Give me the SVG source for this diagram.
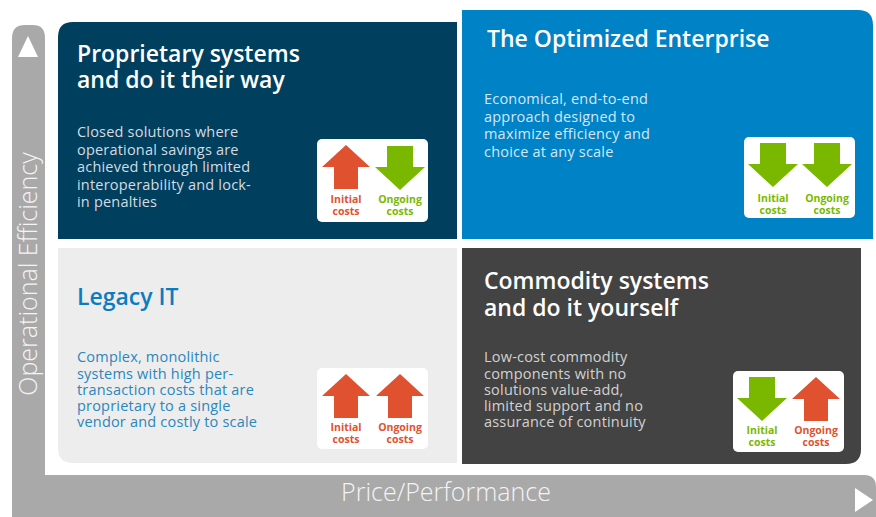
<svg xmlns="http://www.w3.org/2000/svg" xmlns:xlink="http://www.w3.org/1999/xlink" width="876" height="517" viewBox="0 0 876 517">
<defs>
<style>
.title{font-family:"Open Sans",Lato,sans-serif;font-weight:600;font-size:23px}
.body{font-family:"Open Sans",Lato,sans-serif;font-size:14.5px;letter-spacing:0.2px}
.lbl{font-family:"Open Sans",Lato,sans-serif;font-weight:700;font-size:10.5px;text-anchor:middle}
.axis{font-family:"Open Sans",Lato,sans-serif;font-weight:300;font-size:25px;fill:#f4f4f4}
.red{fill:#e0512f}
.green{fill:#7ab800}
.cbox{fill:#ffffff}
</style>
<polygon id="up" points="0,0 24,22 12,22 12,44 -12,44 -12,22 -24,22"/>
<polygon id="down" points="-13,0 13,0 13,21 25,21 0,44 -25,21 -13,21"/>
</defs>
<rect width="876" height="517" fill="#ffffff"/>
<g id="axes">
<path d="M12,38 Q12,25 25,25 L33,25 Q45,25 45,38 L45,475 L864,475 Q876,475 876,487 L876,517 L12,517 Z" fill="#a9a9a9"/>
<polygon points="28,36 38,57 18,57" fill="#ffffff"/>
<polygon points="855,488 873,500 855,512" fill="#ffffff"/>
<text class="axis" transform="translate(37,274) rotate(-90)" text-anchor="middle">Operational Efficiency</text>
<text class="axis" x="446" y="501" text-anchor="middle">Price/Performance</text>
</g>
<g id="connectors"></g>
<g id="q-proprietary">
<path d="M58,239 L58,37 Q58,22 73,22 L457,22 L457,239 Z" fill="#003f5e"/>
<text class="title" fill="#ffffff"><tspan x="77" y="62">Proprietary systems</tspan><tspan x="77" y="88">and do it their way</tspan></text>
<text class="body" fill="#d5dbe0"><tspan x="77" y="137">Closed solutions where</tspan><tspan x="77" y="154.5">operational savings are</tspan><tspan x="77" y="172">achieved through limited</tspan><tspan x="77" y="189.5">interoperability and lock-</tspan><tspan x="77" y="207">in penalties</tspan></text>
<g transform="translate(317,139)">
<rect class="cbox" width="111" height="83" rx="5"/>
<use xlink:href="#up" class="red" x="29" y="6"/>
<use xlink:href="#down" class="green" x="83" y="7"/>
<text class="lbl red"><tspan x="29" y="64">Initial</tspan><tspan x="29" y="76">costs</tspan></text>
<text class="lbl green"><tspan x="83" y="64">Ongoing</tspan><tspan x="83" y="76">costs</tspan></text>
</g>
</g>
<g id="q-optimized">
<path d="M462,239 L462,10 L858,10 Q873,10 873,25 L873,239 Z" fill="#0082c6"/>
<text class="title" fill="#ffffff" x="487" y="47">The Optimized Enterprise</text>
<text class="body" fill="#d3e8f5"><tspan x="484" y="104">Economical, end-to-end</tspan><tspan x="484" y="121.5">approach designed to</tspan><tspan x="484" y="139">maximize efficiency and</tspan><tspan x="484" y="156.5">choice at any scale</tspan></text>
<g transform="translate(744,137)">
<rect class="cbox" width="111" height="81" rx="5"/>
<use xlink:href="#down" class="green" x="29" y="6"/>
<use xlink:href="#down" class="green" x="83" y="6"/>
<text class="lbl green"><tspan x="29" y="65">Initial</tspan><tspan x="29" y="77">costs</tspan></text>
<text class="lbl green"><tspan x="83" y="65">Ongoing</tspan><tspan x="83" y="77">costs</tspan></text>
</g>
</g>
<g id="q-legacy">
<path d="M58,248 L457,248 L457,463 L73,463 Q58,463 58,448 Z" fill="#ededed"/>
<text class="title" fill="#0a7cc1" x="77" y="305">Legacy IT</text>
<text class="body" fill="#2a87bd"><tspan x="77" y="362">Complex, monolithic</tspan><tspan x="77" y="378.5">systems with high per-</tspan><tspan x="77" y="395">transaction costs that are</tspan><tspan x="77" y="411">proprietary to a single</tspan><tspan x="77" y="427">vendor and costly to scale</tspan></text>
<g transform="translate(317,368)">
<rect class="cbox" width="111" height="81" rx="5"/>
<use xlink:href="#up" class="red" x="29" y="6"/>
<use xlink:href="#up" class="red" x="83" y="6"/>
<text class="lbl red"><tspan x="29" y="63">Initial</tspan><tspan x="29" y="75">costs</tspan></text>
<text class="lbl red"><tspan x="83" y="63">Ongoing</tspan><tspan x="83" y="75">costs</tspan></text>
</g>
</g>
<g id="q-commodity">
<path d="M462,248 L861,248 L861,449 Q861,464 846,464 L462,464 Z" fill="#434343"/>
<text class="title" fill="#ffffff"><tspan x="484" y="289">Commodity systems</tspan><tspan x="484" y="316">and do it yourself</tspan></text>
<text class="body" fill="#d2d2d2"><tspan x="484" y="362">Low-cost commodity</tspan><tspan x="484" y="378.5">components with no</tspan><tspan x="484" y="395">solutions value-add,</tspan><tspan x="484" y="411">limited support and no</tspan><tspan x="484" y="427">assurance of continuity</tspan></text>
<g transform="translate(733,371)">
<rect class="cbox" width="111" height="81" rx="5"/>
<use xlink:href="#down" class="green" x="29" y="6"/>
<use xlink:href="#up" class="red" x="83" y="6"/>
<text class="lbl green"><tspan x="29" y="63">Initial</tspan><tspan x="29" y="75">costs</tspan></text>
<text class="lbl red"><tspan x="83" y="63">Ongoing</tspan><tspan x="83" y="75">costs</tspan></text>
</g>
</g>
</svg>
